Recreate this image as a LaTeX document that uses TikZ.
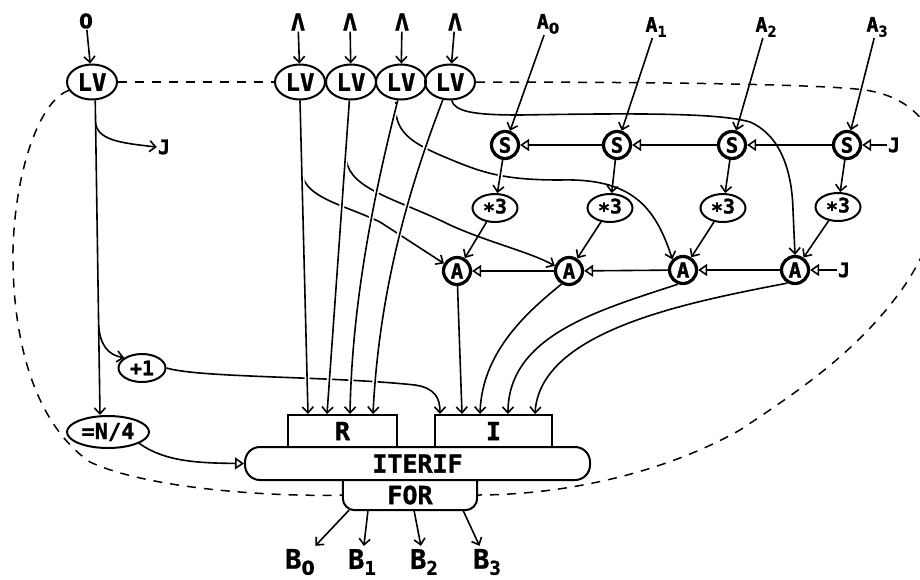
\documentclass[tikz,border=0pt]{standalone}
\usepackage{fontspec}
\newfontfamily\df[BoldFeatures={FakeBold=1.2}]{DejaVu Sans Mono}
\newfontfamily\dz[BoldFeatures={FakeBold=1.2}]{DejaVu Sans}
\usetikzlibrary{arrows.meta,shapes.geometric}
\newcommand\fs[1]{\fontsize{#1pt}{#1pt}\selectfont}
\newcommand\sbx[3]{\raisebox{-#2pt}{\fs{#3}#1}}
\newcommand\zr{{\dz\bfseries 0}}
\begin{document}
\begin{tikzpicture}[x=1pt,y=-1pt,
  lbl/.style={inner sep=1pt, font=\df\bfseries\fs{20}},
  lam/.style={inner sep=1pt, font=\df\bfseries\fs{23}},
  blbl/.style={inner sep=3pt, font=\df\bfseries\fs{27}},
  lvs/.style={ellipse, draw, line width=2pt, minimum width=50pt, minimum height=35pt, inner sep=0pt, font=\df\bfseries\fs{24}},
  ell/.style={ellipse, draw, line width=2pt, inner sep=0pt, font=\df\bfseries\fs{20}},
  circ/.style={circle, draw, line width=3.2pt, minimum size=27pt, inner sep=0pt, font=\df\bfseries\fs{21}},
  boxs/.style={draw, line width=2pt, inner sep=0pt, font=\df\bfseries\fs{25}},
  conn/.style={line width=1.6pt, -{Straight Barb[length=6pt,width=11pt]}},
  trin/.style={line width=1.6pt, -{Triangle[open,length=9pt,width=12pt]}},
  halo/.style={preaction={draw=white, line width=5pt, arrows=-, shorten >=12pt, shorten <=4pt}},
  loopd/.style={line width=1.5pt, dash pattern=on 9pt off 8pt},
]
\fill[white] (0,0) rectangle (920,579);
\useasboundingbox (0,0) rectangle (920,579);

% ---- top labels
\node[lbl] (zero) at (86,21) {\zr};
\node[lam] (la1) at (298,22) {Λ};
\node[lam] (la2) at (350,22) {Λ};
\node[lam] (la3) at (402,22) {Λ};
\node[lam] (la4) at (455,22) {Λ};
\node[lbl] (a0) at (548,24) {A\sbx{\zr}{5}{15}};
\node[lbl] (a1) at (656,27) {A\sbx{1}{5}{15}};
\node[lbl] (a2) at (766,27) {A\sbx{2}{5}{15}};
\node[lbl] (a3) at (877,27) {A\sbx{3}{5}{15}};

% ---- LV nodes
\node[lvs] (lv0) at (92,82) {LV};
\node[lvs] (lv1) at (300,82) {LV};
\node[lvs] (lv2) at (351,82) {LV};
\node[lvs] (lv3) at (401,82) {LV};
\node[lvs] (lv4) at (450,82) {LV};
\node[lbl] (j0) at (164,147) {J};

% ---- S row
\node[circ] (s0) at (505,145) {S};
\node[circ] (s1) at (617,145) {S};
\node[circ] (s2) at (732,145) {S};
\node[circ] (s3) at (847,145) {S};
\node[lbl] (js) at (894,145) {J};

% ---- *3 row
\node[ell, minimum width=45pt, minimum height=28pt] (m0) at (495,208) {\raisebox{-4pt}{*}3};
\node[ell, minimum width=45pt, minimum height=28pt] (m1) at (610,208) {\raisebox{-4pt}{*}3};
\node[ell, minimum width=45pt, minimum height=28pt] (m2) at (723,208) {\raisebox{-4pt}{*}3};
\node[ell, minimum width=45pt, minimum height=28pt] (m3) at (838,207) {\raisebox{-4pt}{*}3};

% ---- A row
\node[circ] (c0) at (457,271) {A};
\node[circ] (c1) at (569,271) {A};
\node[circ] (c2) at (683,270) {A};
\node[circ] (c3) at (795,270) {A};
\node[lbl] (ja) at (844,270) {J};

% ---- left column
\node[ell, minimum width=47pt, minimum height=28pt] (plus) at (142,368) {+1};
\node[ell, minimum width=82pt, minimum height=32pt, font=\df\bfseries\fs{22}] (eqn) at (108,432) {=N/4};

% ---- boxes
\node[boxs, minimum width=109pt, minimum height=32pt] (rbox) at (342.5,431) {R};
\node[boxs, minimum width=117pt, minimum height=32pt] (ibox) at (493.5,431) {I};
\node[boxs, rounded corners=15pt, minimum width=345pt, minimum height=33pt] (iterif) at (417.5,463.5) {ITERIF};
\node[inner sep=0pt, minimum width=134pt, minimum height=30pt, font=\df\bfseries\fs{25}] (for) at (410,495) {FOR};
\draw[line width=2pt, rounded corners=12pt] (for.north west) -- (for.south west) -- (for.south east) -- (for.north east);

% ---- bottom labels
\node[blbl] (b0) at (300,562) {B\sbx{\zr}{6}{19}};
\node[blbl] (b1) at (362,562) {B\sbx{1}{6}{19}};
\node[blbl] (b2) at (424,562) {B\sbx{2}{6}{19}};
\node[blbl] (b3) at (487,562) {B\sbx{3}{6}{19}};

% ---- dashed loop
\draw[loopd] (lv0.east) -- (lv1.west);
\draw[loopd] (lv0.200) .. controls (40,100) and (15,170) .. (13,250)
  .. controls (12,330) and (30,420) .. (90,462)
  .. controls (150,490) and (280,497) .. (for.west);
\draw[loopd] (lv4.east) .. controls (650,82) and (820,84) .. (865,90)
  .. controls (905,96) and (928,118) .. (938,150)
  .. controls (948,190) and (935,240) .. (905,285)
  .. controls (860,350) and (800,390) .. (740,430)
  .. controls (660,475) and (560,495) .. (for.east);

% ---- input arrows
\draw[conn] (zero) -- (lv0);
\draw[conn] (la1) -- (lv1);
\draw[conn] (la2) -- (lv2);
\draw[conn] (la3) -- (lv3);
\draw[conn] (la4) -- (lv4);
\draw[conn] (a0) -- (s0);
\draw[conn] (a1) -- (s1);
\draw[conn] (a2) -- (s2);
\draw[conn] (a3) -- (s3);

% ---- left LV
\draw[conn] (lv0.-80) -- ([xshift=-8pt]eqn.north);
\draw[conn] (95.4,122) .. controls (97,140) and (120,143) .. (j0.west);
\draw[conn] (98.6,325) .. controls (100,345) and (108,355) .. (plus.150);
\draw[conn] (plus.east) .. controls (200,378) and (330,376) .. (415,385)
  .. controls (435,388) and (440,398) .. ([xshift=-53.5pt]ibox.north);
\draw[trin] (eqn.-20) .. controls (165,462) and (200,463) .. (iterif.west);

% ---- LV branches (drawn below main lines)
\draw[conn] (301.8,172) .. controls (304,198) and (345,205) .. (380,222) -- (c0.150);
\draw[conn] (346.4,160) .. controls (350,190) and (400,200) .. (450,225)
  .. controls (490,243) and (530,252) .. (c1.160);
\draw[conn] (396,102) .. controls (393,130) and (410,142) .. (440,155)
  .. controls (480,172) and (500,180) .. (560,180)
  .. controls (630,178) and (655,205) .. (c2.north west);
\draw[conn] (lv4.-85) .. controls (455,112) and (475,115) .. (520,115)
  .. controls (640,113) and (720,113) .. (750,122)
  .. controls (780,135) and (792,170) .. (793,210) -- (c3.north);

% ---- LV main lines into R
\draw[conn,halo] (lv1.south) -- ([xshift=-34.5pt]rbox.north);
\draw[conn,halo] (lv2.-95) -- ([xshift=-15.5pt]rbox.north);
\draw[conn,halo] (lv3.-100) .. controls (375,190) and (352,300) .. ([xshift=7.5pt]rbox.north);
\draw[conn,halo] (lv4.-112) .. controls (420,160) and (380,270) .. ([xshift=30.5pt]rbox.north);

% ---- S chain
\draw[trin] (js) -- (s3);
\draw[trin] (s3) -- (s2);
\draw[trin] (s2) -- (s1);
\draw[trin] (s1) -- (s0);
\draw[conn,halo] (s0) -- (m0);
\draw[conn,halo] (s1) -- (m1);
\draw[conn] (s2) -- (m2);
\draw[conn] (s3) -- (m3);
\draw[conn] (m0) -- (c0);
\draw[conn] (m1) -- (c1);
\draw[conn] (m2) -- (c2);
\draw[conn] (m3) -- (c3);

% ---- A chain
\draw[trin] (ja) -- (c3);
\draw[trin] (c3) -- (c2);
\draw[trin] (c2) -- (c1);
\draw[trin] (c1) -- (c0);

% ---- A into I
\draw[conn] (c0) -- ([xshift=-31.5pt]ibox.north);
\draw[conn] (c1.-120) .. controls (530,310) and (482,350) .. ([xshift=-13.5pt]ibox.north);
\draw[conn] (c2.-110) .. controls (600,310) and (508,335) .. ([xshift=14.5pt]ibox.north);
\draw[conn] (c3.-120) .. controls (690,302) and (540,330) .. ([xshift=41.5pt]ibox.north);

% ---- outputs
\draw[conn] ([xshift=-61pt]for.south) -- (b0);
\draw[conn] ([xshift=-42pt]for.south) -- (b1);
\draw[conn] ([xshift=4pt]for.south) -- (b2);
\draw[conn] ([xshift=53pt]for.south) -- (b3);
\end{tikzpicture}
\end{document}
